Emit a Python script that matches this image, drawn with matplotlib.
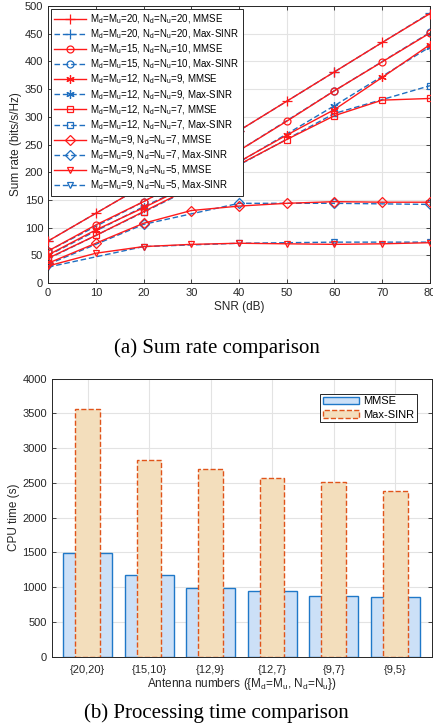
import numpy as np
import matplotlib
matplotlib.use('Agg')
import matplotlib.pyplot as plt

plt.rcParams['font.family'] = ['Liberation Sans', 'DejaVu Sans']
plt.rcParams['mathtext.fontset'] = 'custom'
plt.rcParams['mathtext.rm'] = 'Liberation Sans'

# --- (a) sum rate vs SNR ---
snr_mmse = [0, 10, 20, 30, 40, 50, 60, 70, 80]
snr_sinr = [0, 20, 40, 60, 80]

configs = ['20,20', '15,10', '12,9', '12,7', '9,7', '9,5']
md = [20, 15, 12, 12, 9, 9]
nd = [20, 10, 9, 7, 7, 5]
# '*' in the original is a six-spoke asterisk
markers = ['+', 'o', (6, 2, 0), 's', 'D', 'v']

rate_mmse = [
    [76, 126, 176, 226, 275, 328, 381, 434, 486],
    [58, 105, 147, 193, 239, 292, 347, 399, 451],
    [51, 96, 136, 178, 219, 267, 313, 371, 430],
    [45, 86, 129, 172, 214, 259, 302, 330, 333],
    [36, 72, 108, 131, 139, 144, 147, 146, 146],
    [31, 54, 66, 70, 72, 71, 70, 71, 73],
]
rate_sinr = [
    [76, 176, 275, 381, 487],
    [58, 147, 239, 347, 452],
    [50, 138, 218, 320, 426],
    [44, 128, 213, 306, 356],
    [34, 106, 144, 144, 142],
    [29, 66, 72, 74, 74],
]

# --- (b) CPU time ---
cpu_mmse = [1485, 1179, 986, 948, 870, 861]
cpu_sinr = [3558, 2831, 2702, 2563, 2505, 2380]
bar_labels = ['{20,20}', '{15,10}', '{12,9}', '{12,7}', '{9,7}', '{9,5}']

red = '#FF1A1A'
blue = '#1F6FC0'
ax_col = '#262626'

fig = plt.figure(figsize=(4.33, 7.28), dpi=100)


def style_axes(ax):
    ax.grid(True, color='#E3E3E3', linewidth=0.8)
    ax.set_axisbelow(True)
    ax.tick_params(direction='in', length=3, width=0.6, labelsize=8,
                   colors=ax_col, top=True, right=True)
    for s in ax.spines.values():
        s.set_color(ax_col)
        s.set_linewidth(0.7)


def sub(m, n):
    return (r'M$_\mathregular{d}$=M$_\mathregular{u}$=%d, '
            r'N$_\mathregular{d}$=N$_\mathregular{u}$=%d' % (m, n))


ax1 = fig.add_axes([0.111, 0.611, 0.882, 0.381])
style_axes(ax1)
for i in range(len(configs)):
    mk = markers[i]
    ms = 6.5 if mk == '+' else (6 if i == 2 else 5)
    ax1.plot(snr_mmse, rate_mmse[i], color=red, lw=1.0, marker=mk,
             ms=ms, mfc='none', mew=0.9, label=sub(md[i], nd[i]) + ', MMSE',
             zorder=3)
    ax1.plot(snr_sinr, rate_sinr[i], color=blue, lw=1.0, ls='--', marker=mk,
             ms=ms, mfc='none', mew=0.9, dashes=(4, 2),
             label=sub(md[i], nd[i]) + ', Max-SINR', zorder=2)
ax1.set_xlim(0, 80)
ax1.set_ylim(0, 500)
ax1.set_xticks(np.arange(0, 81, 10))
ax1.set_yticks(np.arange(0, 501, 50))
ax1.set_xlabel('SNR (dB)', fontsize=8.5, color=ax_col, labelpad=2)
ax1.set_ylabel('Sum rate (bits/s/Hz)', fontsize=8.5, color=ax_col, labelpad=2)
leg1 = ax1.legend(loc='upper left', fontsize=7, frameon=True, fancybox=False,
                  framealpha=1, edgecolor=ax_col, borderaxespad=0.3,
                  handlelength=3.3, labelspacing=0.16, borderpad=0.35,
                  handletextpad=0.4)
leg1.get_frame().set_linewidth(0.7)

# bottom panel
ax2 = fig.add_axes([0.12, 0.098, 0.878, 0.382])
style_axes(ax2)
x = np.arange(1, len(bar_labels) + 1)
ax2.bar(x, cpu_mmse, width=0.8, color='#CCE0F7', edgecolor='#1F78C8',
        linewidth=1.0, label='MMSE', zorder=2)
ax2.bar(x, cpu_sinr, width=0.4, color='#F3DEBC', edgecolor='#E0541A',
        linewidth=1.0, linestyle='--', label='Max-SINR', zorder=3)
ax2.set_xlim(0.42, 6.6)
ax2.set_ylim(0, 4000)
ax2.set_xticks(x)
ax2.set_xticklabels(bar_labels)
ax2.set_yticks(np.arange(0, 4001, 500))
ax2.tick_params(axis='x', length=0, pad=6)
ax2.set_xlabel(r'Antenna numbers ({M$_\mathregular{d}$=M$_\mathregular{u}$, '
               r'N$_\mathregular{d}$=N$_\mathregular{u}$})',
               fontsize=8.5, color=ax_col, labelpad=1)
ax2.set_ylabel('CPU time (s)', fontsize=8.5, color=ax_col, labelpad=2)
leg2 = ax2.legend(loc='upper right', fontsize=8, frameon=True, fancybox=False,
                  framealpha=1, edgecolor=ax_col, borderaxespad=1.35,
                  handlelength=3.2, borderpad=0.25, labelspacing=0.3,
                  handletextpad=0.4)
leg2.get_frame().set_linewidth(0.7)

fig.text(0.5, 0.522, '(a) Sum rate comparison', ha='center', va='center',
         fontsize=15, family='Liberation Serif')
fig.text(0.5, 0.021, '(b) Processing time comparison', ha='center',
         va='center', fontsize=15, family='Liberation Serif')

fig.savefig('out.png', dpi=100)
